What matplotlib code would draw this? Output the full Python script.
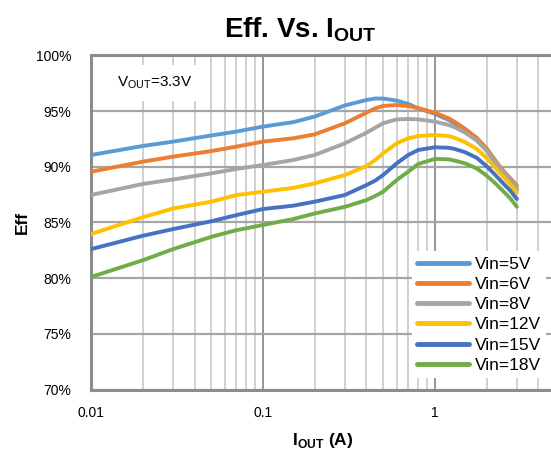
import matplotlib
matplotlib.use('Agg')
import matplotlib.pyplot as plt
from matplotlib.ticker import FixedLocator, NullFormatter, FuncFormatter
import numpy as np

plt.rcParams['font.family'] = ['Liberation Sans', 'DejaVu Sans']
plt.rcParams['mathtext.fontset'] = 'custom'
plt.rcParams['mathtext.rm'] = 'Liberation Sans'
plt.rcParams['mathtext.bf'] = 'Liberation Sans:bold'

# load current (A)
iout = [0.01, 0.02, 0.03, 0.05, 0.07, 0.1, 0.15, 0.2, 0.3, 0.4, 0.45, 0.5, 0.6, 0.7, 0.8,
	1.0, 1.2, 1.3, 1.5, 1.75, 2.0, 2.25, 2.5, 2.75, 3.0]

# efficiency (%)
eff_5v  = [91.05, 91.86, 92.25, 92.8, 93.15, 93.6, 94.0, 94.5, 95.5, 95.99, 96.12, 96.12, 95.93,
	95.63, 95.24, 94.75, 94.2, 93.9, 93.25, 92.45, 91.45, 90.35, 89.4, 88.65, 87.9]
eff_6v  = [89.55, 90.45, 90.9, 91.4, 91.8, 92.25, 92.55, 92.9, 93.9, 94.85, 95.24, 95.45, 95.54,
	95.45, 95.25, 94.85, 94.35, 94.05, 93.4, 92.6, 91.65, 90.55, 89.65, 88.95, 88.3]
eff_8v  = [87.46, 88.45, 88.85, 89.4, 89.8, 90.15, 90.6, 91.05, 92.1, 93.05, 93.5, 93.9, 94.25,
	94.28, 94.25, 94.05, 93.75, 93.55, 93.05, 92.35, 91.45, 90.4, 89.55, 88.8, 88.05]
eff_12v = [83.96, 85.46, 86.25, 86.86, 87.45, 87.75, 88.1, 88.5, 89.25, 90.06, 90.6, 91.2, 92.1,
	92.55, 92.75, 92.85, 92.75, 92.6, 92.2, 91.6, 90.8, 89.9, 89.1, 88.4, 87.7]
eff_15v = [82.6, 83.8, 84.4, 85.1, 85.65, 86.2, 86.5, 86.86, 87.46, 88.35, 88.75, 89.25, 90.3,
	91.05, 91.5, 91.74, 91.7, 91.6, 91.3, 90.8, 90.05, 89.25, 88.5, 87.85, 87.1]
eff_18v = [80.1, 81.6, 82.6, 83.7, 84.3, 84.77, 85.3, 85.8, 86.4, 87.0, 87.37, 87.75, 88.8,
	89.55, 90.24, 90.7, 90.66, 90.55, 90.3, 89.85, 89.2, 88.5, 87.8, 87.15, 86.4]

series = [
	('Vin=5V',  eff_5v,  '#5B9BD5'),
	('Vin=6V',  eff_6v,  '#ED7D31'),
	('Vin=8V',  eff_8v,  '#A5A5A5'),
	('Vin=12V', eff_12v, '#FFC000'),
	('Vin=15V', eff_15v, '#4472C4'),
	('Vin=18V', eff_18v, '#70AD47'),
]

fig = plt.figure(figsize=(5.51, 4.59), dpi=100)
ax = fig.add_axes([91/551, 1 - 389.5/459, 464/551, 334.2/459])

for name, eff, col in series:
	ax.plot(iout, eff, color=col, lw=2.8, label=name, solid_capstyle='round',
		solid_joinstyle='round', zorder=3)

ax.set_xscale('log')
ax.set_xlim(0.01, 5)
ax.set_ylim(70, 100)

# grid: decades darker, minors lighter
ax.xaxis.set_major_locator(FixedLocator([0.01, 0.1, 1]))
ax.xaxis.set_major_formatter(FuncFormatter(lambda v, p: f'{v:g}'))
minors = [k * d for d in (0.01, 0.1, 1) for k in range(2, 10)]
ax.xaxis.set_minor_locator(FixedLocator(minors))
ax.xaxis.set_minor_formatter(NullFormatter())
ax.set_yticks(np.arange(70, 101, 5))
ax.yaxis.set_major_formatter(FuncFormatter(lambda v, p: f'{v:.0f}%'))

ax.grid(True, which='major', axis='x', color='#8C8C8C', lw=1.3)
ax.grid(True, which='minor', axis='x', color='#C8C8C8', lw=1.2)
ax.grid(True, which='major', axis='y', color='#A6A6A6', lw=1.6)
ax.set_axisbelow(True)

for s in ax.spines.values():
	s.set_color('#8C8C8C')
	s.set_linewidth(2.2)

ax.tick_params(which='both', length=0)
ax.tick_params(axis='y', labelsize=10, pad=14)
ax.tick_params(axis='x', labelsize=10, pad=12)

ax.text(117/551, 1 - 83/459, r'V$_{\mathrm{OUT}}$=3.3V', transform=fig.transFigure,
	fontsize=11, va='center', ha='left',
	bbox=dict(facecolor='white', edgecolor='none', pad=7), zorder=4)

fig.text(0.545, 0.935, r'Eff. Vs. I$_{\mathbf{OUT}}$', ha='center', va='center',
	fontsize=20, fontweight='bold')
fig.text(323/551, 1 - 440/459, r'I$_{\mathbf{OUT}}$ (A)', ha='center', va='center',
	fontsize=12.5, fontweight='bold')
fig.text(22/551, 1 - 222/459, 'Eff', ha='center', va='center', rotation=90,
	fontsize=12.5, fontweight='bold')

leg = ax.legend(loc='lower right', bbox_to_anchor=(546/551, 1 - 378/459),
	bbox_transform=fig.transFigure, frameon=True, fontsize=12.5, handlelength=3.0,
	handletextpad=0.3, labelspacing=0.29, borderpad=0.3, borderaxespad=0)
leg.get_frame().set_edgecolor('none')
leg.get_frame().set_facecolor('white')
leg.get_frame().set_alpha(1)
for h in leg.get_lines():
	h.set_linewidth(3.5)

fig.savefig('out.png', dpi=100)
